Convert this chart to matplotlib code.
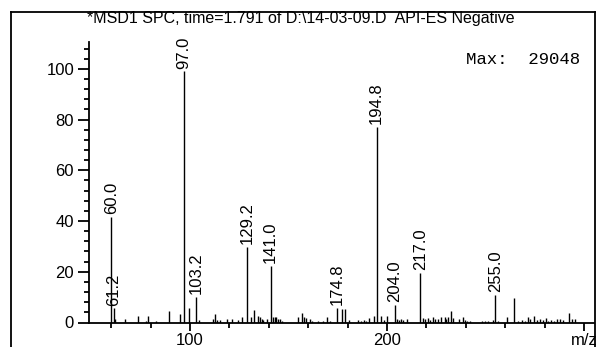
import numpy as np
import matplotlib
matplotlib.use("Agg")
import matplotlib.pyplot as plt
from matplotlib.lines import Line2D
from matplotlib.ticker import MultipleLocator, FixedLocator

plt.rcParams["font.family"] = ["Liberation Sans", "DejaVu Sans"]

# spectrum: m/z and relative abundance (%)
mz = [60.0, 61.2, 62.0, 67.0, 73.8, 77.5, 78.8, 83.0, 89.5, 95.1, 97.0, 99.3,
      103.2, 104.6, 111.5, 112.8, 113.8, 115.0, 118.6, 121.2, 124.2, 126.6,
      129.2, 130.8, 132.7, 134.7, 135.6, 136.4, 137.3, 139.0, 141.0, 142.3,
      143.0, 143.8, 144.8, 145.7, 146.5, 155.0, 157.0, 158.0, 159.0, 160.9,
      162.0, 165.1, 167.3, 169.7, 171.0, 174.8, 177.0, 178.6, 180.7, 185.4,
      187.0, 188.5, 189.6, 191.0, 193.5, 194.8, 196.9, 198.6, 199.8, 204.0,
      204.9, 206.0, 207.2, 208.3, 210.0, 217.0, 218.4, 219.5, 220.6, 221.8,
      223.2, 224.4, 226.0, 227.4, 229.4, 230.2, 231.0, 232.3, 233.6, 236.5,
      238.7, 239.6, 240.8, 242.0, 248.0, 249.7, 251.4, 254.0, 255.0, 256.2,
      260.7, 264.7, 266.7, 268.4, 270.1, 271.7, 272.8, 274.6, 276.0, 277.7,
      279.4, 280.5, 282.0, 283.5, 285.0, 286.5, 288.0, 289.5, 292.4, 293.7,
      295.4]
abund = [41.5, 5.6, 1.2, 1.2, 2.4, 0.6, 2.4, 0.7, 4.5, 3.3, 99.0, 5.7,
         10.1, 0.8, 1.3, 3.2, 0.8, 0.8, 1.3, 1.3, 0.9, 2.0,
         29.8, 2.0, 5.1, 2.6, 2.2, 1.5, 0.9, 1.2, 22.2, 2.0,
         2.0, 2.0, 1.3, 1.3, 0.7, 2.0, 3.8, 2.0, 1.6, 1.3,
         0.6, 0.7, 0.6, 2.0, 0.7, 5.9, 5.2, 5.2, 0.8, 1.0,
         0.7, 1.0, 0.7, 1.6, 2.6, 77.0, 2.6, 1.0, 2.6, 6.9,
         1.3, 1.0, 1.3, 0.8, 1.2, 19.6, 1.6, 1.2, 1.6, 1.0,
         2.3, 1.4, 1.2, 2.0, 2.2, 1.5, 2.3, 4.5, 1.6, 1.3,
         2.0, 1.0, 0.7, 0.7, 0.6, 0.7, 0.6, 1.0, 10.8, 0.7,
         2.0, 9.8, 0.7, 0.8, 0.7, 2.0, 1.3, 2.6, 1.0, 1.2,
         0.8, 1.6, 0.7, 1.0, 0.7, 1.2, 1.3, 0.8, 3.6, 1.2,
         1.2]

labelled = [60.0, 61.2, 97.0, 103.2, 129.2, 141.0, 174.8, 194.8, 204.0, 217.0, 255.0]

title = r"*MSD1 SPC, time=1.791 of D:\14-03-09.D  API-ES Negative"
max_text = "Max:  29048"

W, H = 596, 347
fig = plt.figure(figsize=(W / 100, H / 100), dpi=100)

# axes placed in pixel terms
left, right, bottom, top = 89.3, 594, 322.5, 41.7
ax = fig.add_axes([left / W, 1 - bottom / H, (right - left) / W, (bottom - top) / H])
ax.set_xlim(48.9, 305.1)
ax.set_ylim(0, 110.7)

ax.vlines(mz, 0, abund, color="black", linewidth=1.0)

for m, a in zip(mz, abund):
    if m in labelled:
        ax.annotate(f"{m:.1f}", (m, a), xytext=(0, 2), textcoords="offset points",
                    rotation=90, ha="center", va="bottom", fontsize=12)

ax.text(298, 103.5, max_text, ha="right", va="center",
        fontsize=12.5, family="Liberation Mono")

for s in ["top", "right"]:
    ax.spines[s].set_visible(False)
for s in ["left", "bottom"]:
    ax.spines[s].set_linewidth(1.3)

ax.xaxis.set_major_locator(FixedLocator([100, 200, 300]))
ax.set_xticklabels(["100", "200", "m/z"])
ax.xaxis.set_minor_locator(MultipleLocator(20))
ax.yaxis.set_major_locator(MultipleLocator(20))
ax.yaxis.set_minor_locator(MultipleLocator(4))
ax.tick_params(axis="x", which="major", length=6, width=1.3, pad=1.5, labelsize=12)
ax.tick_params(axis="x", which="minor", length=3.5, width=1.3)
ax.tick_params(axis="y", which="major", length=8, width=1.3, pad=3, labelsize=12)
ax.tick_params(axis="y", which="minor", length=3.5, width=1.3)

# outer frame (left, top, right)
fx0, fx1, fy = 11 / W, 594.8 / W, 1 - 12 / H
for xs, ys in [([fx0, fx0], [0, fy]), ([fx0, fx1], [fy, fy]), ([fx1, fx1], [fy, 0])]:
    fig.add_artist(Line2D(xs, ys, color="black", linewidth=1.3, transform=fig.transFigure))

fig.text(301 / W, 1 - 19 / H, title, ha="center", va="center", fontsize=11.5)

fig.savefig("out.png", dpi=100)
